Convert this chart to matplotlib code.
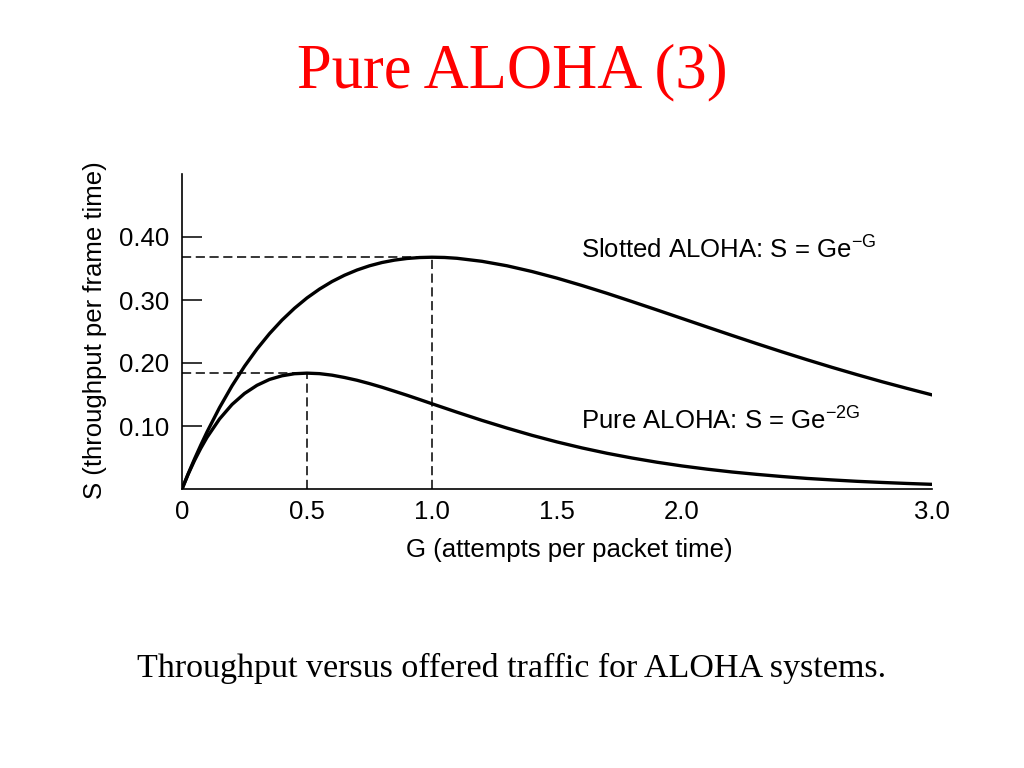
import matplotlib
matplotlib.use("Agg")
import matplotlib.pyplot as plt

plt.rcParams['font.family'] = ['Liberation Sans', 'DejaVu Sans']
plt.rcParams['mathtext.fontset'] = 'custom'
plt.rcParams['mathtext.rm'] = 'Liberation Sans'
plt.rcParams['mathtext.it'] = 'Liberation Sans'

# offered load G (attempts per packet time)
g_values = [0, 0.025, 0.05, 0.075, 0.1, 0.15, 0.2, 0.25, 0.3, 0.35, 0.4, 0.45, 0.5,
            0.55, 0.6, 0.65, 0.7, 0.75, 0.8, 0.85, 0.9, 0.95, 1.0, 1.05, 1.1,
            1.2, 1.3, 1.4, 1.5, 1.6, 1.7, 1.8, 1.9, 2.0,
            2.1, 2.2, 2.3, 2.4, 2.5, 2.6, 2.7, 2.8, 2.9, 3.0]
slotted_s = [0, 0.0244, 0.0476, 0.0696, 0.0905, 0.1291, 0.1637, 0.1947, 0.2222, 0.2466,
             0.2681, 0.2869, 0.3033, 0.3173, 0.3293, 0.3393, 0.3476, 0.3543, 0.3595,
             0.3633, 0.3659, 0.3674, 0.3679, 0.3675, 0.3662,
             0.3614, 0.3543, 0.3452, 0.3347, 0.3230, 0.3106, 0.2975, 0.2842, 0.2707,
             0.2572, 0.2438, 0.2306, 0.2177, 0.2052, 0.1931, 0.1815, 0.1703, 0.1597, 0.1494]
pure_s = [0, 0.0238, 0.0452, 0.0645, 0.0819, 0.1111, 0.1341, 0.1516, 0.1646, 0.1739,
          0.1797, 0.1830, 0.1839, 0.1831, 0.1807, 0.1770, 0.1726, 0.1673, 0.1615,
          0.1552, 0.1488, 0.1421, 0.1353, 0.1286, 0.1219,
          0.1089, 0.0967, 0.0852, 0.0747, 0.0652, 0.0567, 0.0492, 0.0425, 0.0366,
          0.0315, 0.0270, 0.0232, 0.0198, 0.0168, 0.0144, 0.0122, 0.0104, 0.0088, 0.0074]

# maxima marked with dashed guides
slotted_peak = (1.0, 0.368)
pure_peak = (0.5, 0.184)

x_ticks = [0, 0.5, 1.0, 1.5, 2.0, 3.0]
x_tick_labels = ['0', '0.5', '1.0', '1.5', '2.0', '3.0']
x_tick_marks = [1.5, 2.0, 3.0]
y_ticks = [0.10, 0.20, 0.30, 0.40]
y_tick_labels = ['0.10', '0.20', '0.30', '0.40']

fig = plt.figure(figsize=(10.24, 7.68), dpi=100)
ax = fig.add_axes([182 / 1024, 1 - 489 / 768, 750 / 1024, 315 / 768])

ax.plot(g_values, slotted_s, color='black', lw=2.4, solid_joinstyle='round')
ax.plot(g_values, pure_s, color='black', lw=2.4, solid_joinstyle='round')

for gx, sy in (slotted_peak, pure_peak):
    ax.plot([0, gx], [sy, sy], color='black', lw=1.1, dashes=(6, 3))
    ax.plot([gx, gx], [0, sy], color='black', lw=1.1, dashes=(6, 3))

ax.set_xlim(0, 3.0)
ax.set_ylim(0, 0.5)
ax.spines['top'].set_visible(False)
ax.spines['right'].set_visible(False)
ax.spines['bottom'].set_bounds(0, 3.0)
ax.spines['left'].set_linewidth(1.2)
ax.spines['bottom'].set_linewidth(1.2)

ax.set_xticks(x_ticks, x_tick_labels)
ax.set_xticks(x_tick_marks, minor=True)
ax.tick_params(axis='x', which='major', length=0, pad=8, labelsize=18.5)
ax.tick_params(axis='x', which='minor', direction='in', length=15, width=1.1)
ax.set_yticks(y_ticks, y_tick_labels)
ax.tick_params(axis='y', which='major', direction='in', length=14.5, width=1.1,
               pad=9, labelsize=18.5)

ax.set_xlabel('G (attempts per packet time)', fontsize=18.5)
ax.xaxis.set_label_coords(0.517, -0.155)
ax.set_ylabel('S (throughput per frame time)', fontsize=18.5)
ax.yaxis.set_label_coords(-0.1, 0.505)

ax.text(1.595, 0.365, 'Slotted ALOHA: S = Ge$^{-G}$', fontsize=18.5, va='baseline')
ax.text(1.595, 0.094, 'Pure ALOHA: S = Ge$^{-2G}$', fontsize=18.5, va='baseline')

fig.text(0.5, 1 - 87 / 768, 'Pure ALOHA (3)', color='#ff0000', fontsize=45,
         family='Liberation Serif', ha='center', va='baseline')
fig.text(0.5, 1 - 677 / 768, 'Throughput versus offered traffic for ALOHA systems.',
         fontsize=24.5, family='Liberation Serif', ha='center', va='baseline')

fig.savefig('out.png', dpi=100)
